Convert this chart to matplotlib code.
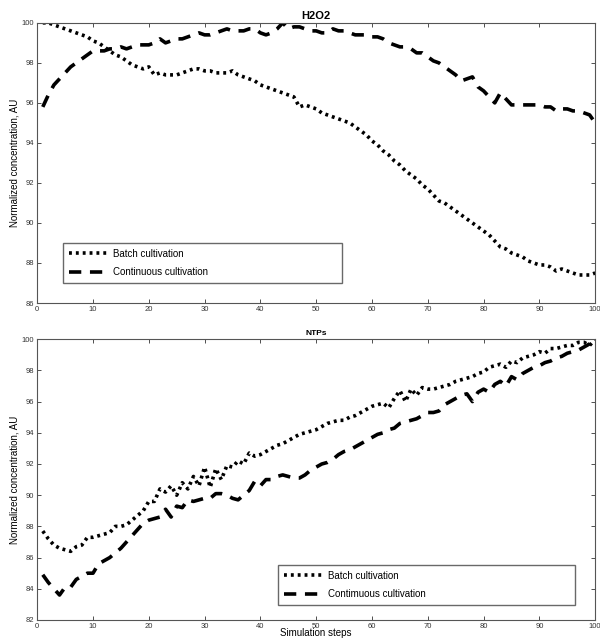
import matplotlib.pyplot as plt

plt.rcParams['font.family'] = ['Liberation Sans', 'DejaVu Sans']

steps = list(range(1, 101))

# H2O2
h2o2_batch = [
    100.0, 100.0, 99.9, 99.8, 99.7, 99.6, 99.5, 99.4, 99.3, 99.1,
    99.0, 98.8, 98.6, 98.4, 98.3, 98.1, 97.9, 97.8, 97.7, 97.8,
    97.4, 97.5, 97.4, 97.4, 97.4, 97.5, 97.6, 97.7, 97.7, 97.6,
    97.6, 97.5, 97.5, 97.5, 97.6, 97.4, 97.3, 97.2, 97.1, 96.9,
    96.8, 96.7, 96.6, 96.5, 96.4, 96.3, 95.8, 95.9, 95.8, 95.7,
    95.5, 95.4, 95.3, 95.2, 95.1, 95.0, 94.8, 94.6, 94.4, 94.1,
    93.9, 93.6, 93.4, 93.1, 92.9, 92.6, 92.4, 92.2, 91.9, 91.7,
    91.4, 91.1, 91.0, 90.8, 90.6, 90.4, 90.2, 90.0, 89.8, 89.6,
    89.4, 89.1, 88.8, 88.7, 88.5, 88.4, 88.3, 88.1, 88.0, 87.9,
    87.9, 87.8, 87.6, 87.7, 87.6, 87.5, 87.4, 87.4, 87.4, 87.5,
]
h2o2_cont = [
    95.8, 96.4, 96.9, 97.2, 97.5, 97.8, 98.0, 98.2, 98.4, 98.6,
    98.6, 98.6, 98.7, 98.7, 98.8, 98.7, 98.8, 98.9, 98.9, 98.9,
    99.0, 99.2, 99.0, 99.1, 99.2, 99.2, 99.3, 99.4, 99.5, 99.4,
    99.4, 99.5, 99.6, 99.7, 99.6, 99.6, 99.6, 99.7, 99.7, 99.5,
    99.4, 99.5, 99.7, 100.0, 99.7, 99.8, 99.8, 99.7, 99.6, 99.6,
    99.5, 99.5, 99.7, 99.6, 99.6, 99.5, 99.4, 99.4, 99.4, 99.3,
    99.3, 99.2, 99.0, 98.9, 98.8, 98.8, 98.7, 98.5, 98.5, 98.3,
    98.1, 98.0, 97.8, 97.6, 97.4, 97.1, 97.2, 97.3, 96.8, 96.6,
    96.3, 96.0, 96.5, 96.2, 95.9, 95.9, 95.9, 95.9, 95.9, 95.9,
    95.8, 95.8, 95.6, 95.7, 95.7, 95.6, 95.6, 95.5, 95.4, 95.0,
]

# NTPs
ntp_batch = [
    87.7, 87.2, 86.8, 86.6, 86.5, 86.4, 86.7, 86.8, 87.3, 87.3,
    87.4, 87.5, 87.6, 88.0, 88.0, 88.1, 88.4, 88.7, 89.0, 89.6,
    89.6, 90.4, 90.2, 90.6, 90.0, 90.8, 90.4, 91.2, 90.6, 91.8,
    90.5, 91.7, 91.0, 91.9, 91.8, 92.2, 92.0, 92.7, 92.5, 92.6,
    92.8, 93.0, 93.2, 93.3, 93.5, 93.7, 93.9, 94.0, 94.1, 94.2,
    94.4, 94.6, 94.7, 94.8, 94.8, 95.0, 95.1, 95.3, 95.5, 95.7,
    95.8, 95.9, 95.6, 96.2, 96.7, 96.0, 96.8, 96.4, 96.9, 96.8,
    96.8, 96.9, 97.0, 97.1, 97.3, 97.4, 97.5, 97.6, 97.8, 97.9,
    98.2, 98.3, 98.4, 98.2, 98.6, 98.5, 98.8, 98.9, 99.0, 99.2,
    99.1, 99.4, 99.4, 99.5, 99.6, 99.6, 99.8, 99.8, 99.6, 100.0,
]
ntp_cont = [
    84.9, 84.4, 84.0, 83.6, 84.1, 84.1, 84.6, 84.8, 85.0, 85.0,
    85.6, 85.8, 86.0, 86.3, 86.6, 87.0, 87.4, 87.8, 88.2, 88.4,
    88.5, 88.6, 89.1, 88.6, 89.3, 89.2, 89.7, 89.6, 89.7, 89.8,
    89.8, 90.1, 90.1, 90.0, 89.8, 89.7, 90.0, 90.3, 90.9, 90.6,
    91.0, 91.0, 91.2, 91.3, 91.2, 91.1, 91.1, 91.3, 91.6, 91.8,
    92.0, 92.1, 92.3, 92.6, 92.8, 92.9, 93.1, 93.3, 93.5, 93.7,
    93.9, 94.0, 94.2, 94.3, 94.6, 94.7, 94.8, 94.9, 95.1, 95.3,
    95.3, 95.4, 95.8, 96.0, 96.2, 96.4, 96.5, 96.0, 96.6, 96.8,
    96.6, 97.1, 97.3, 97.0, 97.6, 97.4, 97.8, 98.0, 98.2, 98.3,
    98.5, 98.6, 98.8, 98.9, 99.1, 99.2, 99.3, 99.5, 99.7, 100.0,
]

DOT = (0, (0.8, 1.1))
DASH = (0, (3.4, 2.4))

fig = plt.figure(figsize=(6, 6.44), dpi=100)
ax1 = fig.add_axes([0.062, 0.5295, 0.930, 0.435])
ax2 = fig.add_axes([0.062, 0.0373, 0.930, 0.436])


def style(ax, ylim, yticks):
    ax.set_xlim(0, 100)
    ax.set_ylim(*ylim)
    ax.set_xticks(range(0, 101, 10))
    ax.set_yticks(yticks)
    ax.tick_params(direction='in', top=True, right=True, labelsize=5.5,
                   length=3, width=0.6, pad=2, colors='#333333')
    for s in ax.spines.values():
        s.set_color('#555555')
        s.set_linewidth(0.8)
    ax.set_ylabel('Normalized concentration, AU', fontsize=7, labelpad=2)


# H2O2 panel
ax1.plot(steps, h2o2_batch, color='black', linestyle=DOT,
         linewidth=2.6, label='Batch cultivation')
ax1.plot(steps, h2o2_cont, color='black', linestyle=DASH,
         linewidth=2.6, label='Continuous cultivation')
style(ax1, (86, 100), range(86, 101, 2))
ax1.set_title('H2O2', fontsize=8, fontweight='bold', pad=3)
ax1.legend(loc='lower left', bbox_to_anchor=(0.047, 0.071, 0.5, 0.154),
           mode='expand', fontsize=7, frameon=True, fancybox=False,
           edgecolor='#444444', handlelength=4.2, handletextpad=0.3,
           borderpad=0.6, labelspacing=0.9, borderaxespad=0)

# NTPs panel
ax2.plot(steps, ntp_batch, color='black', linestyle=DOT,
         linewidth=2.6, label='Batch cultivation')
ax2.plot(steps, ntp_cont, color='black', linestyle=DASH,
         linewidth=2.6, label='Contimuous cultivation')
style(ax2, (82, 100), range(82, 101, 2))
ax2.set_title('NTPs', fontsize=6, fontweight='bold', pad=3)
ax2.set_xlabel('Simulation steps', fontsize=7, labelpad=-1)
ax2.legend(loc='lower left', bbox_to_anchor=(0.432, 0.053, 0.532, 0.157),
           mode='expand', fontsize=7, frameon=True, fancybox=False,
           edgecolor='#444444', handlelength=4.2, handletextpad=0.3,
           borderpad=0.6, labelspacing=0.9, borderaxespad=0)

fig.savefig('out.png', dpi=100)
